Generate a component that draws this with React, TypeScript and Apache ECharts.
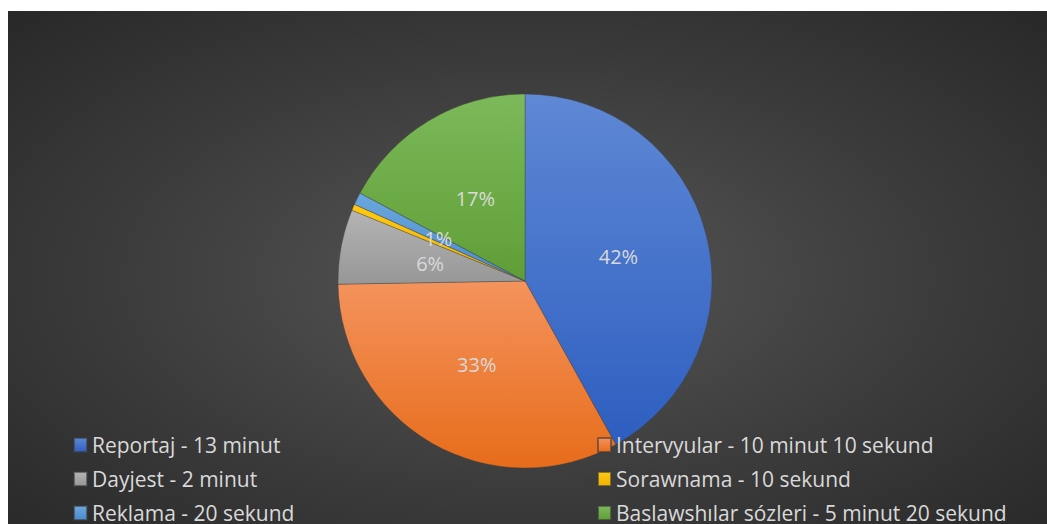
import React, { useEffect, useRef } from "react";
import * as echarts from "echarts";

const categories = [
  "Reportaj - 13 minut",
  "Intervyular - 10 minut 10 sekund",
  "Dayjest - 2 minut",
  "Sorawnama - 10 sekund",
  "Reklama - 20 sekund",
  "Baslawshılar sózleri - 5 minut 20 sekund",
];
// durations in seconds
const values = [780, 610, 120, 10, 20, 320];
const gradTop = ["#5f88d5", "#f4935d", "#b4b4b4", "#ffca12", "#6ba7dd", "#7cb95a"];
const gradBottom = ["#2d5ec0", "#e76c1a", "#979797", "#f0b000", "#4a8bcd", "#5f9e36"];
const legendLeft = [categories[0], categories[2], categories[4]];
const legendRight = [categories[1], categories[3], categories[5]];

const FONT = "'Open Sans', 'Liberation Sans', sans-serif";

export default function App() {
  const ref = useRef<HTMLDivElement>(null);
  useEffect(() => {
    if (!ref.current) return;
    const chart = echarts.init(ref.current, undefined, { renderer: "svg" });
    const data = categories.map((name, i) => ({
      name,
      value: values[i],
      itemStyle: {
        color: new echarts.graphic.LinearGradient(0, 0, 0, 1, [
          { offset: 0, color: gradTop[i] },
          { offset: 1, color: gradBottom[i] },
        ]),
      },
    }));
    const legendCommon = {
      orient: "vertical" as const,
      top: 422,
      height: 200,
      padding: 0,
      itemWidth: 13,
      itemHeight: 14,
      itemGap: 10,
      icon: "rect",
      textStyle: { color: "#d9d9d9", fontSize: 21, fontFamily: FONT, lineHeight: 24 },
    };
    chart.setOption({
      animation: false,
      backgroundColor: "transparent",
      legend: [
        { ...legendCommon, left: 65, data: legendLeft },
        { ...legendCommon, left: 589, data: legendRight },
      ],
      series: [
        {
          type: "pie",
          center: [517, 270],
          radius: [0, 187],
          startAngle: 90,
          clockwise: true,
          avoidLabelOverlap: false,
          data,
          itemStyle: { borderColor: "rgba(60,60,60,0.6)", borderWidth: 0.6 },
          label: {
            show: true,
            position: "inside",
            formatter: (p: any) => Math.round(p.percent) + "%",
            color: "#d9d9d9",
            fontSize: 20,
            fontFamily: FONT,
          },
          labelLine: { show: false },
          emphasis: { disabled: true },
        },
      ],
    });
    return () => chart.dispose();
  }, []);
  return (
    <div
      ref={ref}
      style={{
        position: "absolute",
        left: 8,
        top: 11,
        width: 1039,
        height: 513,
        background: "radial-gradient(ellipse at 50% 52%, #575757 0%, #3c3c3c 55%, #282828 100%)",
      }}
    />
  );
}
